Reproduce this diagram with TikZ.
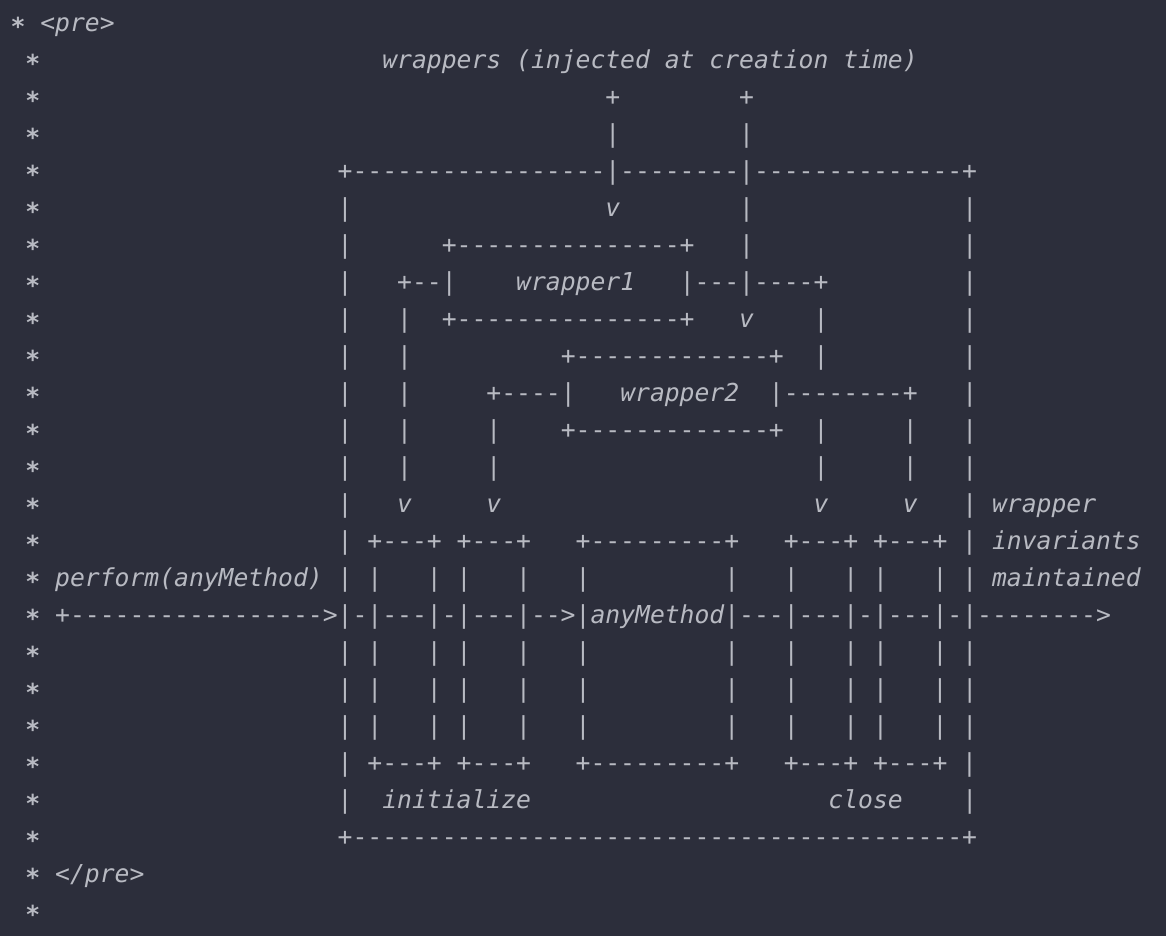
\documentclass[tikz,border=0pt]{standalone}
\usepackage{fontspec}
\setmonofont{DejaVu Sans Mono}
\usepackage{tikz}

\definecolor{bgdark}{RGB}{44,46,59}
\definecolor{codegrey}{RGB}{184,186,194}

% n blank columns / n copies of a character
\newcommand\gap[1]{\hspace*{#1\fontcharwd\font`x}}
\newcommand\rep[2]{\foreach\k in {1,...,#1}{#2}}
\newcommand\w[1]{{\itshape #1}}
\newcommand\cstar{\raisebox{-0.16em}{\bfseries *}}

\begin{document}
\begin{tikzpicture}[x=14.87pt, y=-37pt,
  codeline/.style={anchor=base west, inner sep=0pt, outer sep=0pt, yshift=-9.5pt,
    text=codegrey, font=\ttfamily\fontsize{24.7}{37}\selectfont}]
\fill[bgdark] (-1.2105,-0.5946) rectangle (77.2018,24.7027);
\useasboundingbox (-1.2105,-0.5946) rectangle (77.2018,24.7027);
\node[codeline] (l0) at (-0.5,0) {\cstar\gap{1}\w{<pre>}};
\node[codeline] (l1) at (0.5,1) {\cstar\gap{23}\w{wrappers (injected at creation time)}};
\node[codeline] (l2) at (0.5,2) {\cstar\gap{38}+\gap{8}+};
\node[codeline] (l3) at (0.5,3) {\cstar\gap{38}|\gap{8}|};
\node[codeline] (l4) at (0.5,4) {\cstar\gap{20}+\rep{17}{-}|\rep{8}{-}|\rep{14}{-}+};
\node[codeline] (l5) at (0.5,5) {\cstar\gap{20}|\gap{17}\w{v}\gap{8}|\gap{14}|};
\node[codeline] (l6) at (0.5,6) {\cstar\gap{20}|\gap{6}+\rep{15}{-}+\gap{3}|\gap{14}|};
\node[codeline] (l7) at (0.5,7) {\cstar\gap{20}|\gap{3}+--|\gap{4}\w{wrapper1}\gap{3}|---|----+\gap{9}|};
\node[codeline] (l8) at (0.5,8) {\cstar\gap{20}|\gap{3}|\gap{2}+\rep{15}{-}+\gap{3}\w{v}\gap{4}|\gap{9}|};
\node[codeline] (l9) at (0.5,9) {\cstar\gap{20}|\gap{3}|\gap{10}+\rep{13}{-}+\gap{2}|\gap{9}|};
\node[codeline] (l10) at (0.5,10) {\cstar\gap{20}|\gap{3}|\gap{5}+----|\gap{3}\w{wrapper2}\gap{2}|\rep{8}{-}+\gap{3}|};
\node[codeline] (l11) at (0.5,11) {\cstar\gap{20}|\gap{3}|\gap{5}|\gap{4}+\rep{13}{-}+\gap{2}|\gap{5}|\gap{3}|};
\node[codeline] (l12) at (0.5,12) {\cstar\gap{20}|\gap{3}|\gap{5}|\gap{21}|\gap{5}|\gap{3}|};
\node[codeline] (l13) at (0.5,13) {\cstar\gap{20}|\gap{3}\w{v}\gap{5}\w{v}\gap{21}\w{v}\gap{5}\w{v}\gap{3}|\gap{1}\w{wrapper}};
\node[codeline] (l14) at (0.5,14) {\cstar\gap{20}|\gap{1}+---+\gap{1}+---+\gap{3}+\rep{9}{-}+\gap{3}+---+\gap{1}+---+\gap{1}|\gap{1}\w{invariants}};
\node[codeline] (l15) at (0.5,15) {\cstar\gap{1}\w{perform(anyMethod)}\gap{1}|\gap{1}|\gap{3}|\gap{1}|\gap{3}|\gap{3}|\gap{9}|\gap{3}|\gap{3}|\gap{1}|\gap{3}|\gap{1}|\gap{1}\w{maintained}};
\node[codeline] (l16) at (0.5,16) {\cstar\gap{1}+\rep{17}{-}>|-|---|-|---|-->|\w{anyMethod}|---|---|-|---|-|\rep{8}{-}>};
\foreach \r in {17,18,19}
  \node[codeline] (l\r) at (0.5,\r) {\cstar\gap{20}|\gap{1}|\gap{3}|\gap{1}|\gap{3}|\gap{3}|\gap{9}|\gap{3}|\gap{3}|\gap{1}|\gap{3}|\gap{1}|};
\node[codeline] (l20) at (0.5,20) {\cstar\gap{20}|\gap{1}+---+\gap{1}+---+\gap{3}+\rep{9}{-}+\gap{3}+---+\gap{1}+---+\gap{1}|};
\node[codeline] (l21) at (0.5,21) {\cstar\gap{20}|\gap{2}\w{initialize}\gap{20}\w{close}\gap{4}|};
\node[codeline] (l22) at (0.5,22) {\cstar\gap{20}+\rep{41}{-}+};
\node[codeline] (l23) at (0.5,23) {\cstar\gap{1}\w{</pre>}};
\node[codeline] (l24) at (0.5,24) {\cstar};
\end{tikzpicture}
\end{document}
